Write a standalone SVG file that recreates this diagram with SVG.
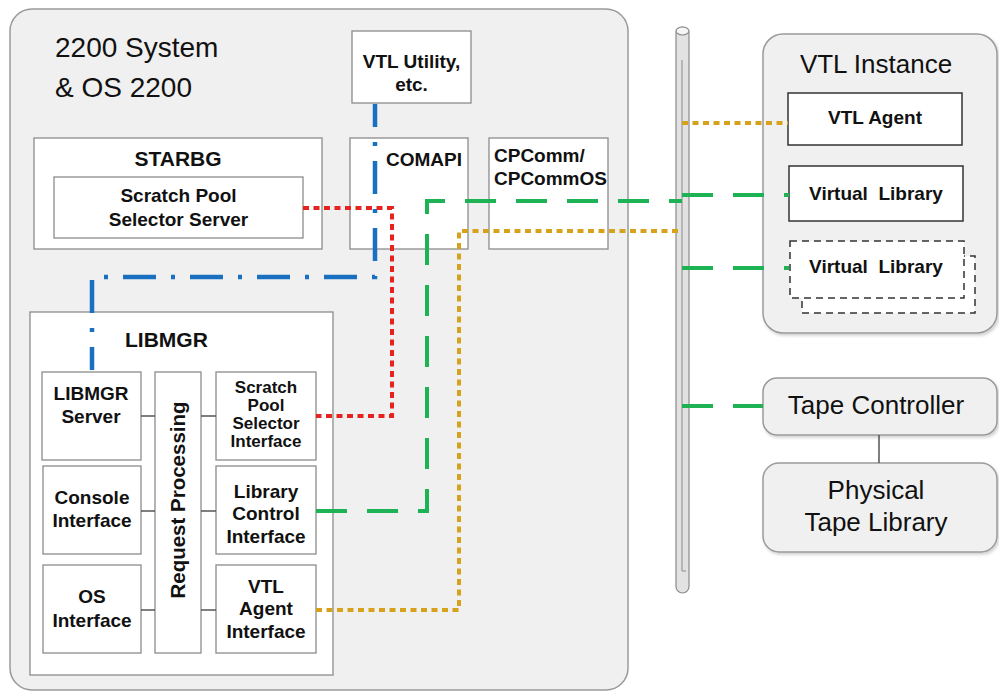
<svg xmlns="http://www.w3.org/2000/svg" width="999" height="692" viewBox="0 0 999 692">
<defs>
<filter id="sh" x="-5%" y="-5%" width="115%" height="115%"><feDropShadow dx="1.5" dy="2" stdDeviation="1.5" flood-color="#000" flood-opacity="0.18"/></filter>
<style>
text{font-family:"Liberation Sans",Arial,sans-serif;fill:#111}
.b{font-weight:bold}
.box{fill:#fff;stroke:#8c8c8c;stroke-width:1.3}
.grp{fill:#f0f0f0;stroke:#9a9a9a;stroke-width:1.5}
.stub{stroke:#555;stroke-width:1.5;fill:none}
.c{fill:none;stroke-width:4}
.red{stroke:#e8231f;stroke-dasharray:6 4.5}
.gold{stroke:#d6a21b;stroke-dasharray:6 4.5}
.green{stroke:#1db254;stroke-dasharray:31 20}
.blue{stroke:#1a70c0;stroke-width:4.5;stroke-dasharray:33 15 4 15;stroke-dashoffset:10}
</style>
</defs>
<rect width="999" height="692" fill="#fff"/>

<g id="system2200">
<rect class="grp" x="10" y="9" width="618" height="681" rx="22"/>
<text x="55" y="57" font-size="28">2200 System</text>
<text x="55" y="97" font-size="28">&amp; OS 2200</text>
</g>

<g id="vtl-utility">
<rect class="box" x="352" y="31" width="119" height="72"/>
<text class="b" x="411.5" y="68" font-size="19" text-anchor="middle">VTL Utility,</text>
<text class="b" x="411.5" y="91" font-size="19" text-anchor="middle">etc.</text>
</g>

<g id="starbg">
<rect class="box" x="34" y="138" width="288" height="111"/>
<text class="b" x="178" y="166" font-size="21" text-anchor="middle">STARBG</text>
</g>
<g id="scratch-pool-selector-server">
<rect class="box" x="54" y="177" width="249" height="61"/>
<text class="b" x="178.5" y="202" font-size="19" text-anchor="middle">Scratch Pool</text>
<text class="b" x="178.5" y="226" font-size="19" text-anchor="middle">Selector Server</text>
</g>

<g id="comapi">
<rect class="box" x="350" y="138" width="118" height="111"/>
<text class="b" x="386" y="166" font-size="19">COMAPI</text>
</g>

<g id="cpcomm">
<rect class="box" x="489" y="138" width="119" height="111"/>
<text class="b" x="494" y="162" font-size="19">CPComm/</text>
<text class="b" x="494" y="185" font-size="19">CPCommOS</text>
</g>

<g id="libmgr">
<rect class="box" x="30" y="312" width="303" height="363"/>
<text class="b" x="125" y="347" font-size="21">LIBMGR</text>
</g>

<g id="libmgr-server">
<rect class="box" x="42" y="372" width="99" height="88"/>
<text class="b" x="91" y="400" font-size="19" text-anchor="middle">LIBMGR</text>
<text class="b" x="91" y="423" font-size="19" text-anchor="middle">Server</text>
</g>
<g id="console-interface">
<rect class="box" x="43" y="466" width="98" height="88"/>
<text class="b" x="92" y="504" font-size="19" text-anchor="middle">Console</text>
<text class="b" x="92" y="527" font-size="19" text-anchor="middle">Interface</text>
</g>
<g id="os-interface">
<rect class="box" x="43" y="565" width="98" height="88"/>
<text class="b" x="92" y="603" font-size="19" text-anchor="middle">OS</text>
<text class="b" x="92" y="627" font-size="19" text-anchor="middle">Interface</text>
</g>
<g id="request-processing">
<rect class="box" x="155" y="372" width="46" height="281"/>
<text class="b" x="0" y="0" font-size="20.5" text-anchor="middle" transform="translate(185 500) rotate(-90)">Request Processing</text>
</g>
<g id="scratch-pool-selector-interface">
<rect class="box" x="216" y="372" width="100" height="88"/>
<text class="b" x="266" y="393" font-size="17" text-anchor="middle">Scratch</text>
<text class="b" x="266" y="411" font-size="17" text-anchor="middle">Pool</text>
<text class="b" x="266" y="429" font-size="17" text-anchor="middle">Selector</text>
<text class="b" x="266" y="447" font-size="17" text-anchor="middle">Interface</text>
</g>
<g id="library-control-interface">
<rect class="box" x="216" y="466" width="100" height="88"/>
<text class="b" x="266" y="498" font-size="19" text-anchor="middle">Library</text>
<text class="b" x="266" y="520" font-size="19" text-anchor="middle">Control</text>
<text class="b" x="266" y="543" font-size="19" text-anchor="middle">Interface</text>
</g>
<g id="vtl-agent-interface">
<rect class="box" x="216" y="565" width="100" height="88"/>
<text class="b" x="266" y="593" font-size="19" text-anchor="middle">VTL</text>
<text class="b" x="266" y="615" font-size="19" text-anchor="middle">Agent</text>
<text class="b" x="266" y="638" font-size="19" text-anchor="middle">Interface</text>
</g>

<g id="bus">
<rect x="676" y="27" width="13" height="566" rx="6.5" fill="#e2e2e2" stroke="#8a8a8a" stroke-width="1.2"/>
<ellipse cx="682.5" cy="31" rx="6.5" ry="4" fill="#f6f6f6" stroke="#8a8a8a" stroke-width="1.2"/>
<path d="M682 60V571H686" fill="none" stroke="#8a8a8a" stroke-width="1"/>
</g>

<g id="vtl-instance">
<rect class="grp" x="763" y="34" width="234" height="299" rx="20" filter="url(#sh)"/>
<text x="876" y="73" font-size="26" text-anchor="middle">VTL Instance</text>
</g>
<g id="vtl-agent">
<rect x="788" y="93" width="174" height="52" fill="#fff" stroke="#333" stroke-width="1.5"/>
<text class="b" x="875" y="124" font-size="19" text-anchor="middle">VTL Agent</text>
</g>
<g id="virtual-library-1">
<rect x="789" y="166" width="174" height="55" fill="#fff" stroke="#333" stroke-width="1.5"/>
<text class="b" x="876" y="200" font-size="19" text-anchor="middle" xml:space="preserve">Virtual  Library</text>
</g>
<g id="virtual-library-2">
<rect x="802" y="256" width="173" height="57" fill="#fff" stroke="#333" stroke-width="1.5" stroke-dasharray="7 5"/>
<rect x="790" y="241" width="174" height="57" fill="#fff" stroke="#333" stroke-width="1.5" stroke-dasharray="7 5"/>
<text class="b" x="876" y="273" font-size="19" text-anchor="middle" xml:space="preserve">Virtual  Library</text>
</g>

<g id="tape-controller">
<rect class="grp" x="763" y="378" width="234" height="57" rx="14" filter="url(#sh)"/>
<text x="876" y="414" font-size="26" text-anchor="middle">Tape Controller</text>
</g>
<g id="physical-tape-library">
<rect class="grp" x="763" y="463" width="234" height="89" rx="16" filter="url(#sh)"/>
<text x="876" y="499" font-size="26" text-anchor="middle">Physical</text>
<text x="876" y="531" font-size="26" text-anchor="middle">Tape Library</text>
</g>

<g id="connectors">
<path class="stub" d="M141 416H155M141 511H155M141 610H155M201 416H216M201 511H216M201 610H216"/>
<path d="M879 435V463" stroke="#555" stroke-width="1.5"/>
<path class="c blue" d="M92 370V277H375V104"/>
<path class="c red" d="M303 208H392V416H316"/>
<path class="c green" d="M316 511H427V201H682"/>
<path class="c green" d="M682 195H789"/>
<path class="c green" d="M682 268H789"/>
<path class="c green" d="M682 406H763"/>
<path class="c gold" d="M316 610H459V231H682"/>
<path class="c gold" d="M682 123H788"/>
</g>
</svg>
